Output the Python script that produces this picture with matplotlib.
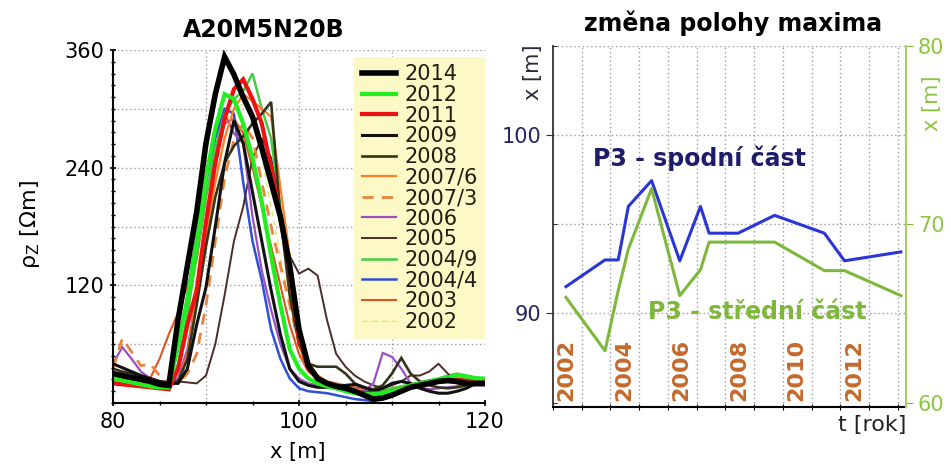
import matplotlib
matplotlib.use('Agg')
import matplotlib.pyplot as plt
from matplotlib.ticker import MultipleLocator

plt.rcParams['font.family'] = ['DejaVu Sans']

# ---- levy graf: profily rho_z pro jednotlive roky ----
x_m = [80, 81, 82, 83, 84, 85, 86, 87, 88, 89, 90, 91, 92, 93, 94, 95, 96, 97, 98, 99, 100,
       101, 102, 103, 104, 105, 106, 107, 108, 109, 110, 111, 112, 113, 114, 115, 116, 117, 118, 119, 120]

rho_2014 = [30, 28, 26, 24, 22, 19, 18, 85, 140, 195, 265, 315, 353, 335, 312, 292, 260, 225, 190, 140, 75,
            38, 25, 20, 17, 15, 12, 8, 4, 5, 8, 12, 16, 18, 20, 22, 23, 22, 20, 20, 20]
rho_2012 = [25, 23, 21, 19, 17, 16, 16, 60, 105, 165, 230, 280, 315, 310, 285, 250, 205, 150, 100, 55, 35,
            25, 20, 17, 15, 12, 10, 9, 9, 10, 12, 14, 18, 20, 22, 24, 26, 28, 27, 25, 25]
rho_2011 = [20, 19, 18, 17, 16, 15, 14, 35, 80, 115, 185, 245, 290, 320, 330, 310, 285, 240, 190, 135, 65,
            35, 25, 20, 17, 14, 12, 10, 10, 10, 12, 14, 17, 20, 22, 23, 24, 24, 23, 22, 22]
rho_2009 = [40, 36, 32, 28, 25, 22, 20, 20, 35, 80, 118, 180, 245, 288, 265, 215, 165, 115, 70, 35, 22,
            18, 16, 16, 17, 18, 19, 16, 12, 15, 20, 22, 20, 15, 12, 10, 10, 12, 15, 20, 22]
rho_2008 = [35, 32, 30, 27, 25, 22, 20, 22, 45, 100, 160, 210, 245, 262, 272, 285, 295, 307, 190, 110, 60,
            40, 37, 37, 37, 30, 20, 16, 14, 18, 30, 46, 30, 22, 18, 16, 15, 16, 18, 20, 22]
rho_2007_6 = [30, 28, 26, 24, 22, 20, 18, 22, 50, 110, 170, 225, 270, 300, 315, 308, 300, 292, 220, 150, 80,
              42, 28, 22, 18, 14, 11, 9, 8, 8, 10, 13, 16, 18, 20, 21, 22, 22, 22, 21, 20]
rho_2007_3 = [35, 66, 52, 38, 40, 28, 22, 20, 30, 50, 100, 165, 230, 268, 285, 270, 225, 180, 140, 100, 60,
              35, 25, 20, 15, 12, 10, 8, 8, 10, 12, 15, 18, 20, 22, 22, 22, 21, 20, 20, 20]
rho_2006 = [40, 57, 45, 32, 25, 22, 20, 25, 55, 110, 175, 240, 295, 275, 265, 190, 135, 95, 60, 35, 25,
            20, 18, 16, 14, 12, 10, 12, 20, 51, 47, 35, 20, 16, 14, 15, 16, 17, 18, 18, 18]
rho_2005 = [25, 25, 24, 23, 22, 22, 22, 22, 21, 20, 28, 60, 110, 165, 200, 250, 270, 250, 195, 150, 132,
            137, 130, 85, 50, 37, 28, 22, 18, 15, 18, 22, 28, 28, 32, 40, 30, 20, 18, 18, 20]
rho_2004_9 = [22, 21, 20, 19, 18, 17, 17, 40, 90, 150, 210, 260, 295, 310, 318, 336, 300, 270, 200, 130, 70,
              40, 28, 22, 18, 15, 13, 12, 12, 13, 15, 17, 19, 21, 23, 25, 28, 30, 28, 26, 25]
rho_2004_4 = [22, 21, 20, 19, 18, 17, 18, 55, 110, 170, 225, 270, 300, 295, 225, 165, 125, 75, 45, 25, 15,
              12, 11, 10, 8, 6, 4, 3, 2, 4, 8, 12, 15, 18, 20, 21, 22, 22, 22, 21, 20]
rho_2003 = [25, 22, 20, 18, 25, 45, 70, 92, 120, 146, 210, 255, 285, 290, 275, 240, 200, 160, 120, 80, 50,
            32, 25, 22, 20, 18, 16, 14, 12, 12, 13, 15, 18, 20, 21, 21, 21, 20, 19, 18, 18]
rho_2002 = [28, 26, 24, 22, 20, 18, 17, 30, 70, 130, 190, 245, 285, 300, 305, 290, 250, 200, 150, 100, 55,
            32, 24, 20, 17, 14, 12, 11, 11, 12, 14, 16, 18, 20, 21, 22, 22, 22, 21, 20, 20]

series_labels = ['2014', '2012', '2011', '2009', '2008', '2007/6', '2007/3',
                 '2006', '2005', '2004/9', '2004/4', '2003', '2002']
series_values = [rho_2014, rho_2012, rho_2011, rho_2009, rho_2008, rho_2007_6, rho_2007_3,
                 rho_2006, rho_2005, rho_2004_9, rho_2004_4, rho_2003, rho_2002]
series_colors = ['#000000', '#22ee22', '#ee1111', '#111111', '#34331c', '#ff7f27', '#e8843c',
                 '#9a4fc4', '#4d2b2b', '#44cc44', '#2e4fd8', '#dd5522', '#dfe86a']
series_widths = [4.0, 3.0, 3.0, 2.2, 1.9, 1.6, 2.0, 1.6, 1.4, 1.8, 1.8, 1.5, 1.0]
series_styles = ['-', '-', '-', '-', '-', '-', (0, (4, 3)), '-', '-', '-', '-', '-', (0, (4, 3))]

# ---- pravy graf: zmena polohy maxima ----
t_rok = [2002.45, 2003.81, 2004.27, 2004.62, 2005.43, 2006.41, 2007.13, 2007.43,
         2008.44, 2009.71, 2011.44, 2012.14, 2014.1]
x_spodni = [91.5, 93.0, 93.0, 96.0, 97.45, 92.95, 96.0, 94.5, 94.5, 95.5, 94.5, 92.95, 93.45]
x_stredni = [65.9, 62.9, 66.3, 68.6, 72.0, 66.0, 67.45, 69.0, 69.0, 69.0, 67.4, 67.4, 66.0]
year_labels = [2002, 2004, 2006, 2008, 2010, 2012]

grid_kw = dict(color='#9a9a9a', linestyle=(0, (1, 2)), linewidth=1.0)

fig = plt.figure(figsize=(9.51, 4.68), dpi=100)

# levy panel
ax1 = fig.add_axes([113 / 951, 65 / 468, 372 / 951, 353 / 468])
for lab, vals, col, lw, ls in reversed(list(zip(series_labels, series_values, series_colors,
                                                 series_widths, series_styles))):
    ax1.plot(x_m, vals, color=col, lw=lw, linestyle=ls, label=lab, solid_joinstyle='miter')

ax1.set_xlim(80, 120)
ax1.set_ylim(0, 360)
ax1.set_xticks([80, 100, 120])
ax1.xaxis.set_minor_locator(MultipleLocator(5))
ax1.set_yticks([120, 240, 360])
ax1.yaxis.set_minor_locator(MultipleLocator(12))
ax1.tick_params(axis='both', which='major', labelsize=15, length=5, width=1.2, direction='inout')
ax1.tick_params(axis='both', which='minor', length=3, width=1, direction='inout')
ax1.tick_params(axis='x', pad=4)
for v in [60, 120, 180, 240, 300, 360]:
    ax1.axhline(v, zorder=0, **grid_kw)
for v in [90, 100, 110]:
    ax1.axvline(v, zorder=0, **grid_kw)
ax1.spines['top'].set_visible(False)
ax1.spines['right'].set_visible(False)
ax1.spines['left'].set_linewidth(1.5)
ax1.spines['bottom'].set_linewidth(1.5)

handles, labels = ax1.get_legend_handles_labels()
handles = handles[::-1]
labels = labels[::-1]
leg = ax1.legend(handles, labels, loc='upper right', bbox_to_anchor=(1.0, 0.98),
                 fontsize=15, handlelength=1.65, handletextpad=0.4, labelspacing=0.03,
                 borderpad=0.35, borderaxespad=0, frameon=True, fancybox=False)
leg.get_frame().set_facecolor('#fdf9c6')
leg.get_frame().set_edgecolor('none')
leg.get_frame().set_alpha(1)
for txt in leg.get_texts():
    txt.set_color('#1e1e14')

fig.text(264 / 951, 1 - 30 / 468, 'A20M5N20B', fontsize=17, fontweight='bold',
         ha='center', va='center')
fig.text(30 / 951, 1 - 225 / 468, r'ρ$_\mathrm{Z}$ [Ωm]', fontsize=16, rotation=90,
         ha='center', va='center')
fig.text(298 / 951, 1 - 452 / 468, 'x [m]', fontsize=15, ha='center', va='center')

# pravy panel
navy = '#24245f'
green = '#7db83a'
ax2 = fig.add_axes([553 / 951, 61 / 468, 353 / 951, 361 / 468])
ax2.plot(t_rok, x_spodni, color='#2a35d8', lw=2.2)
ax2.set_xlim(2002, 2014.28)
ax2.set_ylim(84.75, 105)
ax2.set_xticks(range(2002, 2015))
ax2.set_xticklabels([])
ax2.set_yticks([90, 100])
ax2.yaxis.set_minor_locator(MultipleLocator(5))
ax2.tick_params(axis='y', which='major', labelsize=15, labelcolor=navy, length=5,
                direction='out', color='#333333')
ax2.tick_params(axis='y', which='minor', length=3, direction='in')
ax2.tick_params(axis='x', which='major', length=4, direction='inout')
for v in [90, 95, 100, 105]:
    ax2.axhline(v, zorder=0, **grid_kw)
for yr in range(2003, 2015):
    ax2.axvline(yr, zorder=0, **grid_kw)
ax2.spines['top'].set_visible(False)
ax2.spines['right'].set_visible(False)
ax2.spines['left'].set_color('#333333')
ax2.spines['left'].set_linewidth(1.3)
ax2.spines['bottom'].set_linewidth(1.5)

for yr in year_labels:
    ax2.text(yr + 0.47, 0.018, str(yr), transform=ax2.get_xaxis_transform(), rotation=90,
             ha='center', va='bottom', fontsize=16, fontweight='bold', color='#c4692c')

ax3 = ax2.twinx()
ax3.plot(t_rok, x_stredni, color=green, lw=2.2)
ax3.set_ylim(59.75, 80)
ax3.set_yticks([60, 70, 80])
ax3.tick_params(axis='y', labelsize=15, labelcolor='#8cc63f', color=green, length=5,
                direction='out')
for side in ['top', 'left', 'bottom']:
    ax3.spines[side].set_visible(False)
ax3.spines['right'].set_color('#a8d05a')
ax3.spines['right'].set_linewidth(1.5)

ax2.text(2003.39, 98.71, 'P3 - spodní část', fontsize=17, fontweight='bold',
         color='#1c1c6b', ha='left', va='center')
ax2.text(2005.30, 90.09, 'P3 - střední část', fontsize=17, fontweight='bold',
         color=green, ha='left', va='center', zorder=5)

fig.text(733 / 951, 1 - 23 / 468, 'změna polohy maxima', fontsize=17, fontweight='bold',
         ha='center', va='center')
fig.text(533 / 951, 1 - 72 / 468, 'x [m]', fontsize=15, rotation=90, color='#2a2a3a',
         ha='center', va='center')
fig.text(932 / 951, 1 - 103 / 468, 'x [m]', fontsize=15, rotation=90, color='#8cc63f',
         ha='center', va='center')
fig.text(906 / 951, 1 - 425 / 468, 't [rok]', fontsize=16, ha='right', va='center',
         color='#222222')

fig.savefig('out.png', dpi=100)
